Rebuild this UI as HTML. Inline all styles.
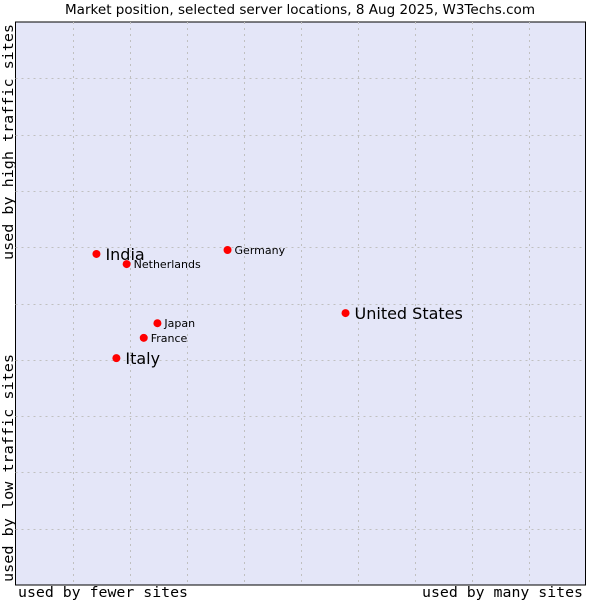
<!DOCTYPE html>
<html><head><meta charset="utf-8"><style>
body{margin:0;background:#fff;width:600px;height:600px;overflow:hidden}
svg text{font-family:"DejaVu Sans","Liberation Sans",sans-serif}
.mono{font-family:"DejaVu Sans Mono","Liberation Mono",monospace}
</style></head><body>
<svg id="chart" width="600" height="600" xmlns="http://www.w3.org/2000/svg">
<text x="65" y="14" textLength="470" lengthAdjust="spacingAndGlyphs" font-size="13" fill="#000">Market position, selected server locations, 8 Aug 2025, W3Techs.com</text>
<rect x="15.5" y="22" width="570" height="563" fill="#e4e6f8" stroke="#000" stroke-width="1"/>
<g id="grid"></g>
<g id="marks"></g>
<text class="mono" x="18" y="597" font-size="14" textLength="170" lengthAdjust="spacingAndGlyphs">used by fewer sites</text>
<text class="mono" x="422" y="597" font-size="14" textLength="161" lengthAdjust="spacingAndGlyphs">used by many sites</text>
<text class="mono" transform="translate(13,260) rotate(-90)" font-size="14" textLength="236" lengthAdjust="spacingAndGlyphs">used by high traffic sites</text>
<text class="mono" transform="translate(13,582) rotate(-90)" font-size="14" textLength="228" lengthAdjust="spacingAndGlyphs">used by low traffic sites</text>
</svg>
<script>
const names=["India","Netherlands","Germany","United States","Japan","France","Italy"];
const xVals=[14.2,19.5,37.2,57.9,24.9,22.5,17.7];
const yVals=[58.8,57.0,59.5,48.3,46.5,43.9,40.3];
const big=[true,false,false,true,false,false,true];
const L=15.5,R=585.5,T=22,B=585;
const sx=v=>L+v/100*(R-L), sy=v=>B-v/100*(B-T);
const NS="http://www.w3.org/2000/svg";
const grid=document.getElementById('grid'), marks=document.getElementById('marks');
for(let i=1;i<10;i++){const l=document.createElementNS(NS,'line');const x=Math.round(sx(i*10))+0.5;
l.setAttribute('x1',x);l.setAttribute('x2',x);l.setAttribute('y1',T);l.setAttribute('y2',B);
l.setAttribute('stroke','#c0c0c0');l.setAttribute('stroke-dasharray','2,4');

grid.appendChild(l);}
for(let i=1;i<10;i++){const l=document.createElementNS(NS,'line');const y=Math.round(sy(i*10))+0.5;
l.setAttribute('x1',L);l.setAttribute('x2',R);l.setAttribute('y1',y);l.setAttribute('y2',y);
l.setAttribute('stroke','#c0c0c0');l.setAttribute('stroke-dasharray','2,4');

grid.appendChild(l);}
names.forEach((n,i)=>{const x=sx(xVals[i]),y=sy(yVals[i]);
const c=document.createElementNS(NS,'circle');c.setAttribute('cx',x);c.setAttribute('cy',y);c.setAttribute('r',4);c.setAttribute('fill','#f00');

marks.appendChild(c);
const t=document.createElementNS(NS,'text');t.setAttribute('x',x+(big[i]?9:7));t.setAttribute('y',y+(big[i]?6:4));
t.setAttribute('font-size',big[i]?16:11);t.textContent=n;

marks.appendChild(t);});
</script>
</body></html>
